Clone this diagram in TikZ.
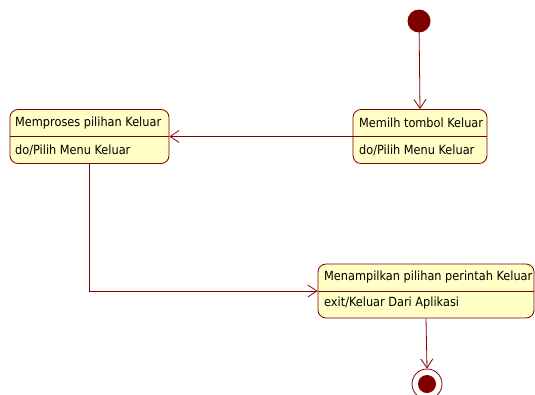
\documentclass[tikz,border=0pt]{standalone}
\usepackage{fontspec}
\setmainfont{DejaVu Sans Condensed}
\usetikzlibrary{arrows.meta}
\definecolor{umlred}{HTML}{800000}
\definecolor{umlfill}{HTML}{FFFFC6}
\begin{document}
\begin{tikzpicture}[x=1pt,y=-1pt,
  state/.style={draw=umlred, fill=umlfill, rounded corners=8pt, line width=0.8pt, inner sep=0pt},
  lbl/.style={anchor=west, inner sep=0pt, font=\fontsize{12.6}{14}\selectfont},
  flow/.style={draw=umlred, line width=0.8pt, -{Straight Barb[length=9pt,width=12pt]}}]
\useasboundingbox (0,0) rectangle (535,394);

% initial and final pseudo-states
\node[circle, fill=umlred, minimum size=23pt, inner sep=0pt] (init) at (419,21) {};
\node[circle, draw=umlred, line width=0.8pt, minimum size=30pt, inner sep=0pt] (fin) at (427,384) {};
\node[circle, fill=umlred, minimum size=18pt, inner sep=0pt] (fincore) at (fin) {};

% states
\node[state, minimum width=159pt, minimum height=54pt] (s1) at (89.5,136.5) {};
\draw[umlred, line width=0.8pt] (s1.west) -- (s1.east);
\node[lbl] (s1a) at (15,123) {Memproses pilihan Keluar};
\node[lbl] (s1b) at (15,150) {do/Pilih Menu Keluar};

\node[state, minimum width=134pt, minimum height=54pt] (s2) at (420,136.5) {};
\draw[umlred, line width=0.8pt] (s2.west) -- (s2.east);
\node[lbl] (s2a) at (359,123) {Memilh tombol Keluar};
\node[lbl] (s2b) at (359,150) {do/Pilih Menu Keluar};

\node[state, minimum width=216pt, minimum height=54pt] (s3) at (426,291) {};
\draw[umlred, line width=0.8pt] (s3.west) -- (s3.east);
\node[lbl] (s3a) at (324,277) {Menampilkan pilihan perintah Keluar};
\node[lbl] (s3b) at (324,303) {exit/Keluar Dari Aplikasi};

% transitions
\draw[flow] (init) -- (s2.north);
\draw[flow] (s2.west) -- (s1.east);
\draw[flow] (s1.south) -- (s1.south |- s3.west) -- (s3.west);
\draw[flow] (s3.south) -- (fin.north);
\end{tikzpicture}
\end{document}
